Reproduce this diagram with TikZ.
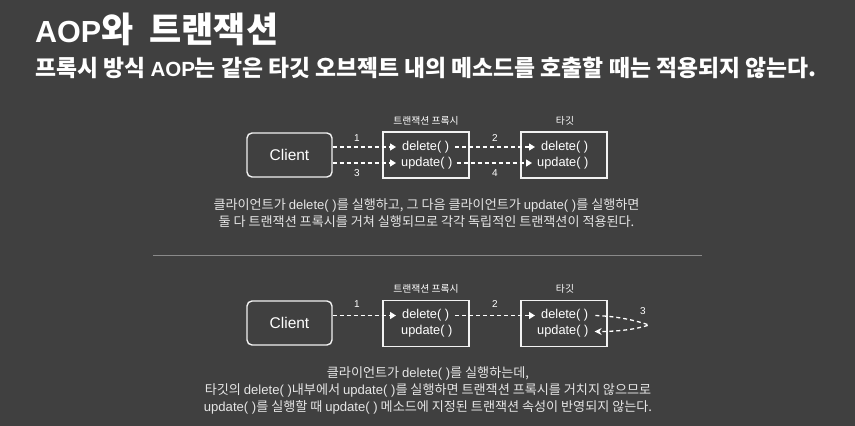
\documentclass[tikz,border=0pt]{standalone}
\usepackage{fontspec}
\setmainfont{Noto Sans CJK KR}
\newfontfamily\latinf{Liberation Sans}
\usetikzlibrary{arrows.meta,calc}
\definecolor{bgc}{HTML}{404040}
\definecolor{capc}{HTML}{E6E6E6}
\definecolor{linec}{HTML}{F2F2F2}
\definecolor{divc}{HTML}{8A8A8A}
\newcommand{\lat}[1]{{\latinf #1}}
\tikzset{
  box/.style={draw=linec, line width=1.4pt, minimum width=86pt, minimum height=46pt, inner sep=0pt},
  clientbox/.style={draw=linec, line width=1.4pt, rounded corners=5pt, minimum width=85pt, minimum height=44pt, inner sep=0pt, text=white, font=\latinf\fontsize{15.5}{18}\selectfont},
  meth/.style={inner sep=0pt, anchor=west, text=white, font=\latinf\fontsize{12.8}{15}\selectfont},
  boxlabel/.style={text=white, font=\fontsize{9.8}{11}\selectfont, inner sep=0pt},
  num/.style={text=white, font=\latinf\fontsize{10}{12}\selectfont, inner sep=0pt},
  call/.style={draw=white, line width=1.3pt, dash pattern=on 4pt off 3pt, -{Triangle[length=6pt,width=7pt]}},
  selfcall/.style={draw=white, line width=1.3pt, dash pattern=on 4pt off 3pt, -{Stealth[length=7pt,width=7pt]}},
  captext/.style={text=capc, align=center, font=\fontsize{13.1}{17}\selectfont, inner sep=0pt},
}
\begin{document}
\begin{tikzpicture}[x=1pt,y=-1pt]
\fill[bgc] (0,0) rectangle (855,426);
\useasboundingbox (0,0) rectangle (855,426);

% titles
\node[anchor=base west, inner sep=0pt, text=white, font=\bfseries\fontsize{35}{38}\selectfont] (title) at (35,42)
  {{\latinf\fontsize{30.5}{34}\selectfont AOP}와\hspace{8pt} 트랜잭션};
\node[anchor=base west, inner sep=0pt, text=white, font=\bfseries\fontsize{22.8}{26}\selectfont] (subtitle) at (35,76)
  {프록시 방식 {\latinf\fontsize{20.5}{24}\selectfont AOP}는 같은 타깃 오브젝트 내의 메소드를 호출할 때는 적용되지 않는다.};

% ---------- diagram 1 ----------
\node[clientbox] (client1) at (289.5,155) {Client};
\node[box] (proxy1) at (426,155) {};
\node[box] (target1) at (564,155) {};
\node[boxlabel] (lp1) at (426,121) {트랜잭션 프록시};
\node[boxlabel] (lt1) at (565,121) {타깃};
\node[meth] (pd1) at (402,147) {delete( )};
\node[meth] (pu1) at (401,163) {update( )};
\node[meth] (td1) at (541,147) {delete( )};
\node[meth] (tu1) at (537,163) {update( )};
\draw[call] (client1.east |- pd1.west) -- ([xshift=-6pt]pd1.west);
\draw[call] ([xshift=6pt]pd1.east) -- ([xshift=-6pt]td1.west);
\draw[call] (client1.east |- pu1.west) -- ([xshift=-5pt]pu1.west);
\draw[call] ([xshift=4pt]pu1.east) -- ([xshift=-5pt]tu1.west);
\node[num] (n1a) at (357,138) {1};
\node[num] (n3a) at (357,173) {3};
\node[num] (n2a) at (495,138) {2};
\node[num] (n4a) at (495,173) {4};

\node[captext] (cap1) at (426.5,213.5) {클라이언트가 \lat{delete( )}를 실행하고, 그 다음 클라이언트가 \lat{update( )}를 실행하면\\둘 다 트랜잭션 프록시를 거쳐 실행되므로 각각 독립적인 트랜잭션이 적용된다.};

% divider
\draw[divc, line width=1pt] (153,255) -- (702,255);

% ---------- diagram 2 ----------
\node[clientbox] (client2) at (289.5,323) {Client};
\node[box] (proxy2) at (426,323.5) {};
\node[box] (target2) at (564,323.5) {};
\node[boxlabel] (lp2) at (426,289) {트랜잭션 프록시};
\node[boxlabel] (lt2) at (565,289) {타깃};
\node[meth] (pd2) at (402,315.5) {delete( )};
\node[meth] (pu2) at (401,331.5) {update( )};
\node[meth] (td2) at (541,315.5) {delete( )};
\node[meth] (tu2) at (537,331.5) {update( )};
\draw[call] (client2.east |- pd2.west) -- ([xshift=-6pt]pd2.west);
\draw[call] ([xshift=6pt]pd2.east) -- ([xshift=-6pt]td2.west);
\coordinate (loopc) at (649,325);
\draw[selfcall] ([xshift=7pt]td2.east) .. controls +(25,1) and +(-12,-4) .. (loopc)
   .. controls +(-12,4) and +(25,0) .. ([xshift=6pt]tu2.east);
\node[num] (n1b) at (357,304) {1};
\node[num] (n2b) at (495,304) {2};
\node[num] (n3b) at (643,311) {3};

\node[captext] (cap2) at (428,390) {클라이언트가 \lat{delete( )}를 실행하는데,\\타깃의 \lat{delete( )}내부에서 \lat{update( )}를 실행하면 트랜잭션 프록시를 거치지 않으므로\\\lat{update( )}를 실행할 때 \lat{update( )} 메소드에 지정된 트랜잭션 속성이 반영되지 않는다.};
\end{tikzpicture}
\end{document}
